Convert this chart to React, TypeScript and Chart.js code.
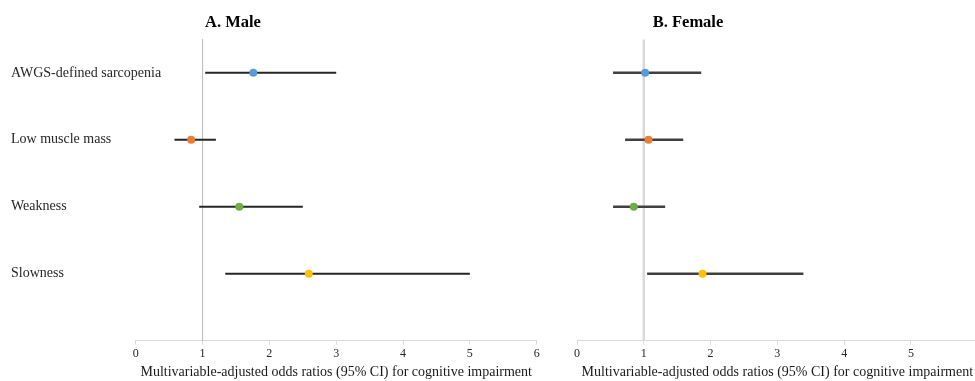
import React, { useEffect, useRef } from 'react';
import { Chart, registerables } from 'chart.js';

Chart.register(...registerables);

const categories = ['AWGS-defined sarcopenia', 'Low muscle mass', 'Weakness', 'Slowness'];
const pointColors = ['#5B9BD5', '#ED7D31', '#70AD47', '#FFC000'];

const maleOR = [1.76, 0.83, 1.55, 2.59];
const maleLower = [1.04, 0.58, 0.95, 1.34];
const maleUpper = [3.0, 1.2, 2.5, 5.0];

const femaleOR = [1.02, 1.07, 0.85, 1.88];
const femaleLower = [0.54, 0.72, 0.54, 1.05];
const femaleUpper = [1.86, 1.59, 1.32, 3.39];

const xTicks = [0, 1, 2, 3, 4, 5, 6];
const xAxisTitle = 'Multivariable-adjusted odds ratios (95% CI) for cognitive impairment';
const refValue = 1;
const refFrom = 0.5;
const refTo = 5;

const FONT = "'Liberation Serif', 'Times New Roman', serif";

type PanelProps = {
  or: number[];
  lower: number[];
  upper: number[];
  showLabels: boolean;
  left: number;
  width: number;
  padLeft: number;
  padRight: number;
  barColor: string;
  barWidth: number;
  refColor: string;
  refWidth: number;
};

function Panel(p: PanelProps) {
  const ref = useRef<HTMLCanvasElement | null>(null);
  useEffect(() => {
    if (!ref.current) return;
    const datasets: any[] = [];
    datasets.push({
      label: 'OR',
      data: p.or.map((v, i) => ({ x: v, y: i + 1 })),
      pointRadius: 4,
      pointBorderWidth: 0,
      pointBackgroundColor: pointColors,
      showLine: false,
      clip: false,
    });
    p.or.forEach((_, i) => {
      datasets.push({
        label: 'CI ' + categories[i],
        data: [
          { x: p.lower[i], y: i + 1 },
          { x: p.upper[i], y: i + 1 },
        ],
        showLine: true,
        borderColor: p.barColor,
        borderWidth: p.barWidth,
        pointRadius: 0,
        clip: false,
      });
    });
    datasets.push({
      label: 'ref',
      data: [
        { x: refValue, y: refFrom },
        { x: refValue, y: refTo },
      ],
      showLine: true,
      borderColor: p.refColor,
      borderWidth: p.refWidth,
      pointRadius: 0,
      clip: false,
    });

    const chart = new Chart(ref.current, {
      type: 'scatter',
      data: { datasets },
      options: {
        animation: false,
        responsive: false,
        devicePixelRatio: 1,
        layout: { padding: { left: p.padLeft, right: p.padRight, top: 5.9, bottom: 0 } },
        plugins: { legend: { display: false }, tooltip: { enabled: false } },
        scales: {
          x: {
            type: 'linear',
            min: xTicks[0],
            max: xTicks[xTicks.length - 1],
            afterBuildTicks: (scale: any) => {
              scale.ticks = xTicks.map((v) => ({ value: v }));
            },
            afterFit: (scale: any) => {
              scale.height = 40.3;
            },
            grid: { drawOnChartArea: false, drawTicks: true, tickLength: 4, color: '#d9d9d9' },
            border: { display: true, color: '#d9d9d9', width: 1 },
            ticks: {
              padding: 2,
              font: { family: FONT, size: 12 },
              color: '#262626',
              maxRotation: 0,
              callback: (v: any) => String(v),
            },
            title: {
              display: true,
              text: xAxisTitle,
              font: { family: FONT, size: 14 },
              color: '#1a1a1a',
              padding: { top: 0, bottom: 0 },
            },
          },
          y: {
            type: 'linear',
            min: 0,
            max: 5,
            reverse: true,
            display: p.showLabels,
            afterFit: (scale: any) => {
              scale.width = 0;
            },
            grid: { display: false },
            border: { display: false },
            ticks: {
              stepSize: 1,
              mirror: true,
              crossAlign: 'near',
              padding: -(p.padLeft - 11),
              font: { family: FONT, size: 14 },
              color: '#262626',
              callback: (v: any) => {
                const lab = categories[Number(v) - 1];
                return lab === undefined ? null : lab;
              },
            },
          },
        },
      } as any,
    });
    return () => chart.destroy();
  }, []);
  return (
    <canvas
      ref={ref}
      width={p.width}
      height={381}
      style={{ position: 'absolute', left: p.left, top: 0, width: p.width, height: 381 }}
    />
  );
}

const titleStyle: React.CSSProperties = {
  position: 'absolute',
  top: 22,
  transform: 'translate(-50%, -50%)',
  fontFamily: FONT,
  fontWeight: 'bold',
  fontSize: 16.5,
  lineHeight: 1,
  color: '#000',
  whiteSpace: 'nowrap',
};

export default function App() {
  return (
    <div
      style={{
        position: 'absolute',
        left: 0,
        top: 0,
        width: 975,
        height: 381,
        overflow: 'hidden',
        background: '#fff',
      }}
    >
      <Panel
        or={maleOR}
        lower={maleLower}
        upper={maleUpper}
        showLabels={true}
        left={0}
        width={560}
        padLeft={135.7}
        padRight={23.3}
        barColor="#262626"
        barWidth={2}
        refColor="#bfbfbf"
        refWidth={1}
      />
      <Panel
        or={femaleOR}
        lower={femaleLower}
        upper={femaleUpper}
        showLabels={false}
        left={540}
        width={460}
        padLeft={37}
        padRight={22.3}
        barColor="#404040"
        barWidth={2.5}
        refColor="#d9d9d9"
        refWidth={2.5}
      />
      <div style={{ ...titleStyle, left: 233 }}>A. Male</div>
      <div style={{ ...titleStyle, left: 688 }}>B. Female</div>
    </div>
  );
}
